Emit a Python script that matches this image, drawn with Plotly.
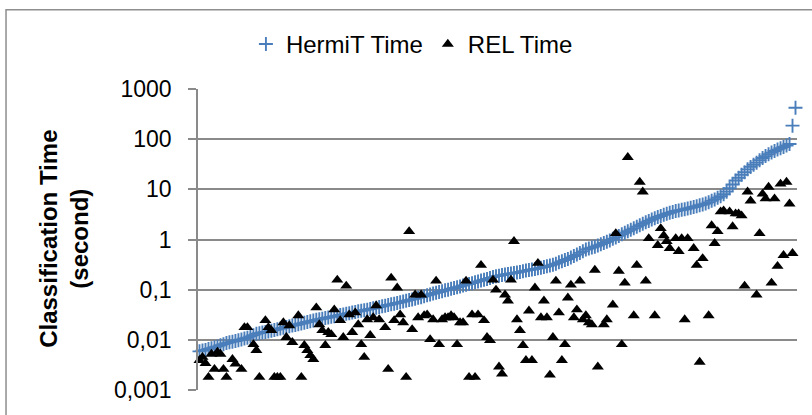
import plotly.graph_objects as go

# ---- data ----
hermit_time = [
    0.0059, 0.0061, 0.0063, 0.0066, 0.0068, 0.0071, 0.0074, 0.0078, 0.0082, 0.0086,
    0.0089, 0.0092, 0.0095, 0.0098, 0.0102, 0.0106, 0.011, 0.0117, 0.0124, 0.0132,
    0.0136, 0.014, 0.0143, 0.0147, 0.0152, 0.0157, 0.0162, 0.0168, 0.0174, 0.018,
    0.0186, 0.0192, 0.0198, 0.0205, 0.0212, 0.0219, 0.0226, 0.0234, 0.0242, 0.025,
    0.0257, 0.0264, 0.0272, 0.0279, 0.0287, 0.0295, 0.0303, 0.0312, 0.0321, 0.033,
    0.034, 0.035, 0.036, 0.037, 0.038, 0.039, 0.040, 0.0412, 0.0424, 0.0437,
    0.045, 0.0465, 0.048, 0.0495, 0.051, 0.0526, 0.0542, 0.0559, 0.0578, 0.060,
    0.062, 0.064, 0.066, 0.069, 0.071, 0.074, 0.077, 0.080, 0.084, 0.087,
    0.090, 0.093, 0.097, 0.100, 0.104, 0.108, 0.112, 0.116, 0.121, 0.126,
    0.13, 0.135, 0.14, 0.146, 0.152, 0.158, 0.164, 0.171, 0.178, 0.186,
    0.19, 0.195, 0.2, 0.205, 0.21, 0.215, 0.22, 0.226, 0.233, 0.24,
    0.246, 0.252, 0.259, 0.266, 0.274, 0.283, 0.292, 0.302, 0.315, 0.33,
    0.35, 0.37, 0.39, 0.41, 0.44, 0.47, 0.5, 0.54, 0.58, 0.63,
    0.66, 0.69, 0.72, 0.76, 0.8, 0.85, 0.9, 0.96, 1.03, 1.1,
    1.18, 1.27, 1.36, 1.46, 1.56, 1.67, 1.79, 1.92, 2.06, 2.2,
    2.35, 2.5, 2.65, 2.8, 2.95, 3.1, 3.25, 3.4, 3.55, 3.7,
    3.8, 3.9, 4.0, 4.15, 4.3, 4.45, 4.6, 4.8, 5.0, 5.2,
    5.5, 5.9, 6.3, 6.8, 7.3, 8.0, 9.0, 10.5, 12.5, 15,
    17, 19.5, 22, 25, 28, 31, 34, 38, 42, 46,
    50, 54, 58, 62, 66, 70, 75, 80, 186, 423,
]

rel_time = [
    0.0039, 0.0045, 0.0034, 0.0018, 0.0052, 0.0026, 0.0057, 0.0052, 0.0026, 0.0018,
    0.0009, 0.0041, 0.0033, None, 0.0026, 0.0177, 0.0177, None, 0.0081, 0.0062,
    0.0018, None, 0.0243, 0.0177, 0.0154, 0.0018, 0.0018, 0.0018, 0.0221, 0.0112,
    0.0193, 0.0089, None, 0.0304, 0.0018, 0.0078, 0.0062, 0.0049, 0.0041, 0.0437,
    0.0202, 0.0154, 0.0078, 0.0141, 0.0128, 0.040, 0.156, 0.0243, 0.0112, 0.119,
    0.0318, 0.0141, 0.0348, 0.0202, 0.0081, 0.0045, 0.0254, 0.0123, 0.0278, 0.0479,
    0.0254, None, 0.0177, 0.0026, 0.171, 0.0243, 0.109, 0.0318, 0.0221, 0.0018,
    1.45, 0.0161, 0.079, 0.0278, 0.079, 0.0304, 0.0318, 0.0102, 0.0254, 0.149,
    0.0081, 0.0254, 0.0278, 0.0278, 0.0304, 0.0278, 0.0081, 0.0221, 0.0221, 0.149,
    0.0018, 0.0318, 0.0018, 0.0318, 0.308, 0.0243, 0.0112, 0.0098, 0.156, 0.099,
    0.0029, 0.0021, 0.079, 0.060, 0.156, 0.92, 0.0254, 0.0154, 0.0078, 0.0039,
    0.038, 0.0039, 0.109, 0.338, 0.0278, 0.060, 0.0278, 0.0020, 0.0112, 0.149,
    0.0348, 0.0039, 0.0081, 0.069, 0.124, 0.0278, 0.040, 0.149, 0.0254, 0.0304,
    0.0221, 0.0202, 0.246, 0.0029, None, 0.0202, 0.0254, None, 0.050, 1.32,
    0.235, 0.0081, 0.136, 43.5, None, 0.0304, 0.308, 14.0, 8.9, 0.149,
    1.05, None, 0.0304, 0.766, 1.66, 1.2, 0.92, 0.667, None, 1.05,
    0.58, 1.05, 0.0254, 1.05, None, 0.667, 0.308, 0.0036, 0.42, None,
    0.0304, 1.9, 0.84, 1.45, 3.58, 3.75, None, 3.58, 1.81, 3.27,
    3.27, 2.99, 0.119, 8.9, 5.9, None, 0.079, 1.32, 8.1, 6.5,
    11.1, 0.136, 6.5, 0.294, 12.8, 0.485, 14.0, 5.15, 0.53, None,
]

ontology_index = list(range(1, len(hermit_time) + 1))

y_tick_values = [0.001, 0.01, 0.1, 1, 10, 100, 1000]
y_tick_labels = ["0,001", "0,01", "0,1", "1", "10", "100", "1000"]

series_names = ["HermiT Time", "REL Time"]
y_title = "Classification Time<br>(second)"

FONT = "Liberation Sans, Arial, sans-serif"
GRID = "#8a8a8a"

fig = go.Figure()
fig.add_trace(go.Scatter(
    x=ontology_index, y=hermit_time, mode="markers", name=series_names[0],
    marker=dict(symbol="cross-thin-open", size=10, color="#4a7ebb",
                line=dict(color="#4a7ebb", width=1.9)),
    cliponaxis=False,
))
fig.add_trace(go.Scatter(
    x=ontology_index, y=rel_time, mode="markers", name=series_names[1],
    marker=dict(symbol="triangle-up", size=10.5, color="#000000",
                line=dict(width=0)),
    cliponaxis=False,
))

fig.update_layout(
    width=812, height=415,
    margin=dict(l=198, r=15, t=89, b=22),
    paper_bgcolor="white", plot_bgcolor="white",
    font=dict(family=FONT, color="#000000"),
    showlegend=True,
    legend=dict(orientation="h", x=0.08, xanchor="left", y=1.148, yanchor="middle",
                font=dict(family=FONT, size=24, color="#000000"),
                bgcolor="rgba(0,0,0,0)", itemsizing="trace"),
    xaxis=dict(range=[0.5, 200.5], showgrid=False, zeroline=False,
               showticklabels=False, ticks="", showline=False),
    yaxis=dict(type="log", range=[-3, 3], tickvals=y_tick_values,
               ticktext=y_tick_labels, showgrid=True, gridcolor=GRID,
               gridwidth=1.6, zeroline=False, showline=True, linecolor=GRID,
               linewidth=1.6, ticks="outside", ticklen=8, tickcolor=GRID,
               tickwidth=1.6, ticklabelstandoff=12,
               tickfont=dict(family=FONT, size=23, color="#000000")),
    shapes=[dict(type="rect", xref="paper", yref="paper",
                 x0=-0.3205, x1=1.5, y0=-0.5, y1=1.263,
                 line=dict(color="#8e8e8e", width=1.5), fillcolor="rgba(0,0,0,0)",
                 layer="below")],
    annotations=[dict(text="<b>" + y_title + "</b>", textangle=-90,
                      xref="paper", yref="paper", x=-0.225, y=0.503,
                      xanchor="center", yanchor="middle", showarrow=False,
                      font=dict(family=FONT, size=24, color="#000000"))],
)

fig.write_html("out.html")
